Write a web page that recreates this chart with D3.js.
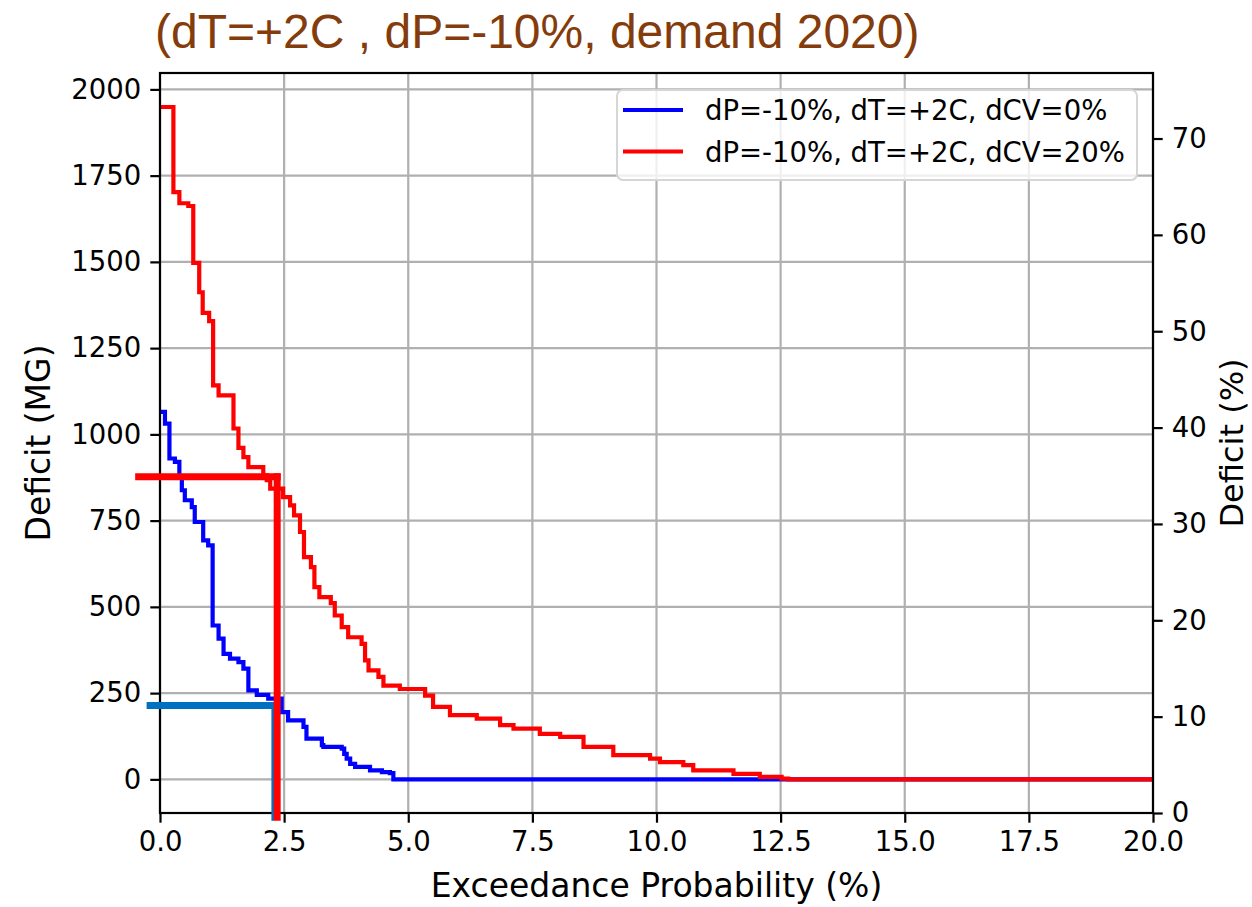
<!DOCTYPE html>
<html>
<head>
<meta charset="utf-8">
<script src="https://cdn.jsdelivr.net/npm/d3@7"></script>
<style>
    body { margin: 0; background: #fff; }
    text { font-family: "DejaVu Sans", sans-serif; fill: #000; }
</style>
</head>
<body>
<script>

// exceedance probability (%) where each step starts, deficit (MG) after the step
var blueX = [0, 0.10, 0.19, 0.30, 0.39, 0.44, 0.50, 0.64, 0.70, 0.87, 0.97, 1.06, 1.18, 1.28, 1.41, 1.58, 1.68, 1.78, 1.95, 2.18, 2.45, 2.58, 2.89, 2.95, 3.26, 3.29, 3.66, 3.71, 3.76, 3.83, 3.93, 4.23, 4.47, 4.63, 4.70, 20];
var blueY = [1065, 1031, 930, 920, 876, 838, 809, 789, 746, 693, 678, 446, 408, 364, 350, 340, 321, 258, 245, 234, 195, 171, 152, 118, 99, 94, 89, 74, 60, 45, 36, 26, 21, 18, 0, 0];

var redX = [0, 0.27, 0.39, 0.57, 0.67, 0.79, 0.86, 0.99, 1.07, 1.18, 1.48, 1.58, 1.68, 1.78, 2.08, 2.15, 2.22, 2.48, 2.62, 2.70, 2.82, 2.90, 3.04, 3.11, 3.21, 3.44, 3.52, 3.66, 3.79, 4.06, 4.13, 4.20, 4.40, 4.50, 4.83, 5.34, 5.50, 5.84, 6.38, 6.85, 7.12, 7.65, 8.06, 8.53, 9.13, 9.87, 10.07, 10.54, 10.74, 11.55, 12.08, 12.52, 12.65, 20];
var redY = [1949, 1702, 1670, 1662, 1497, 1412, 1352, 1328, 1142, 1113, 1017, 961, 934, 905, 881, 867, 843, 818, 794, 765, 717, 644, 615, 557, 528, 511, 475, 441, 412, 393, 345, 316, 297, 272, 262, 243, 210, 186, 176, 157, 147, 132, 123, 94, 70, 60, 50, 41, 26, 16, 7, 2, 0, 0];

var seriesNames = ["dP=-10%, dT=+2C, dCV=0%", "dP=-10%, dT=+2C, dCV=20%"];
var seriesColors = ["#0000ff", "#ff0000"];

var xTicks = [0, 2.5, 5, 7.5, 10, 12.5, 15, 17.5, 20];
var yTicks = [0, 250, 500, 750, 1000, 1250, 1500, 1750, 2000];
var y2Ticks = [0, 10, 20, 30, 40, 50, 60, 70];

// read-off marks drawn over the chart: [x start, x end, deficit MG, bottom MG]
var redMark = [-0.5, 2.36, 877, -120];
var blueMark = [-0.27, 2.27, 214, -120];

var titleText = "(dT=+2C , dP=-10%, demand 2020)";

var margin = {top: 73, right: 99, bottom: 94, left: 160};
var W = 1252, H = 907;
var width = W - margin.left - margin.right;
var height = H - margin.top - margin.bottom;

var svg = d3.select("body").append("svg")
    .attr("width", W)
    .attr("height", H);

var g = svg.append("g")
    .attr("transform", "translate(" + margin.left + "," + margin.top + ")");

var x = d3.scaleLinear().domain([0, 20]).range([0, width]);
var y = d3.scaleLinear().domain([-97.5, 2047.5]).range([height, 0]);
var y2 = d3.scaleLinear().domain([0, 76.8]).range([height, 0]);

// grid
g.append("g").selectAll("line").data(xTicks).enter().append("line")
    .attr("x1", function(d) { return x(d); })
    .attr("x2", function(d) { return x(d); })
    .attr("y1", 0).attr("y2", height)
    .attr("stroke", "#b0b0b0").attr("stroke-width", 2.2);
g.append("g").selectAll("line").data(yTicks).enter().append("line")
    .attr("x1", 0).attr("x2", width)
    .attr("y1", function(d) { return y(d); })
    .attr("y2", function(d) { return y(d); })
    .attr("stroke", "#b0b0b0").attr("stroke-width", 2.2);

g.append("clipPath").attr("id", "plotclip")
    .append("rect").attr("width", width).attr("height", height);

var line = d3.line()
    .x(function(d) { return x(d[0]); })
    .y(function(d) { return y(d[1]); })
    .curve(d3.curveStepAfter);

var series = [d3.zip(blueX, blueY), d3.zip(redX, redY)];

g.append("g").attr("clip-path", "url(#plotclip)")
    .selectAll("path").data(series).enter().append("path")
    .attr("d", line)
    .attr("fill", "none")
    .attr("stroke", function(d, i) { return seriesColors[i]; })
    .attr("stroke-width", 4.2)
    .attr("stroke-linejoin", "miter")
    .attr("stroke-linecap", "square");

// axes
var fs = "27.5px";
var xAxis = d3.axisBottom(x).tickValues(xTicks).tickFormat(d3.format(".1f")).tickSize(9.7).tickPadding(9);
var yAxis = d3.axisLeft(y).tickValues(yTicks).tickFormat(d3.format("d")).tickSize(9.7).tickPadding(9);
var y2Axis = d3.axisRight(y2).tickValues(y2Ticks).tickFormat(d3.format("d")).tickSize(9.7).tickPadding(9);

var gx = g.append("g").attr("transform", "translate(0," + height + ")").call(xAxis);
var gy = g.append("g").call(yAxis);
var gy2 = g.append("g").attr("transform", "translate(" + width + ",0)").call(y2Axis);

[gx, gy, gy2].forEach(function(a) {
    a.select(".domain").remove();
    a.selectAll(".tick line").attr("stroke", "#000").attr("stroke-width", 2.2);
    a.selectAll(".tick text").attr("font-size", fs).attr("font-family", "DejaVu Sans").attr("fill", "#222");
});

// spines
g.append("rect")
    .attr("width", width).attr("height", height)
    .attr("fill", "none").attr("stroke", "#000").attr("stroke-width", 2.2);

// legend
var leg = g.append("g").attr("transform", "translate(" + (617 - margin.left) + "," + (90 - margin.top) + ")");
leg.append("rect")
    .attr("width", 520).attr("height", 90)
    .attr("rx", 6).attr("ry", 6)
    .attr("fill", "#fff").attr("fill-opacity", 0.8)
    .attr("stroke", "#d6d6d6").attr("stroke-width", 2);
var items = leg.selectAll(".item").data(seriesNames).enter().append("g")
    .attr("class", "item")
    .attr("transform", function(d, i) { return "translate(0," + (20 + i * 41.5) + ")"; });
items.append("line")
    .attr("x1", 6).attr("x2", 66)
    .attr("stroke", function(d, i) { return seriesColors[i]; })
    .attr("stroke-width", 4.2);
items.append("text")
    .attr("x", 88).attr("y", 0)
    .attr("dominant-baseline", "central")
    .attr("font-size", fs)
    .attr("fill", "#222")
    .text(function(d) { return d; });

// axis labels
svg.append("text")
    .attr("transform", "translate(50," + (margin.top + height / 2) + ") rotate(-90)")
    .attr("text-anchor", "middle")
    .attr("font-size", "33px").attr("fill", "#222")
    .text("Deficit (MG)");
svg.append("text")
    .attr("transform", "translate(1243," + (margin.top + height / 2) + ") rotate(-90)")
    .attr("text-anchor", "middle")
    .attr("font-size", "32px").attr("fill", "#222")
    .text("Deficit (%)");
svg.append("text")
    .attr("x", margin.left + width / 2).attr("y", 897)
    .attr("text-anchor", "middle")
    .attr("font-size", "33px").attr("fill", "#222")
    .text("Exceedance Probability (%)");

// title
svg.append("text")
    .attr("x", 155).attr("y", 48)
    .attr("font-size", "48px")
    .style("font-family", "'Liberation Sans', Arial, sans-serif")
    .style("fill", "#843c0c")
    .text(titleText);

// read-off marks
function mark(m, color, hw, vw) {
    g.append("line")
        .attr("x1", x(m[0])).attr("x2", x(m[1]) + vw / 2)
        .attr("y1", y(m[2])).attr("y2", y(m[2]))
        .attr("stroke", color).attr("stroke-width", hw);
    g.append("line")
        .attr("x1", x(m[1])).attr("x2", x(m[1]))
        .attr("y1", y(m[2]) - hw / 2).attr("y2", y(m[3]))
        .attr("stroke", color).attr("stroke-width", vw);
}
mark(blueMark, "#0070c0", 7, 2.6);
mark(redMark, "#ff0000", 7, 7);

</script>
</body>
</html>
